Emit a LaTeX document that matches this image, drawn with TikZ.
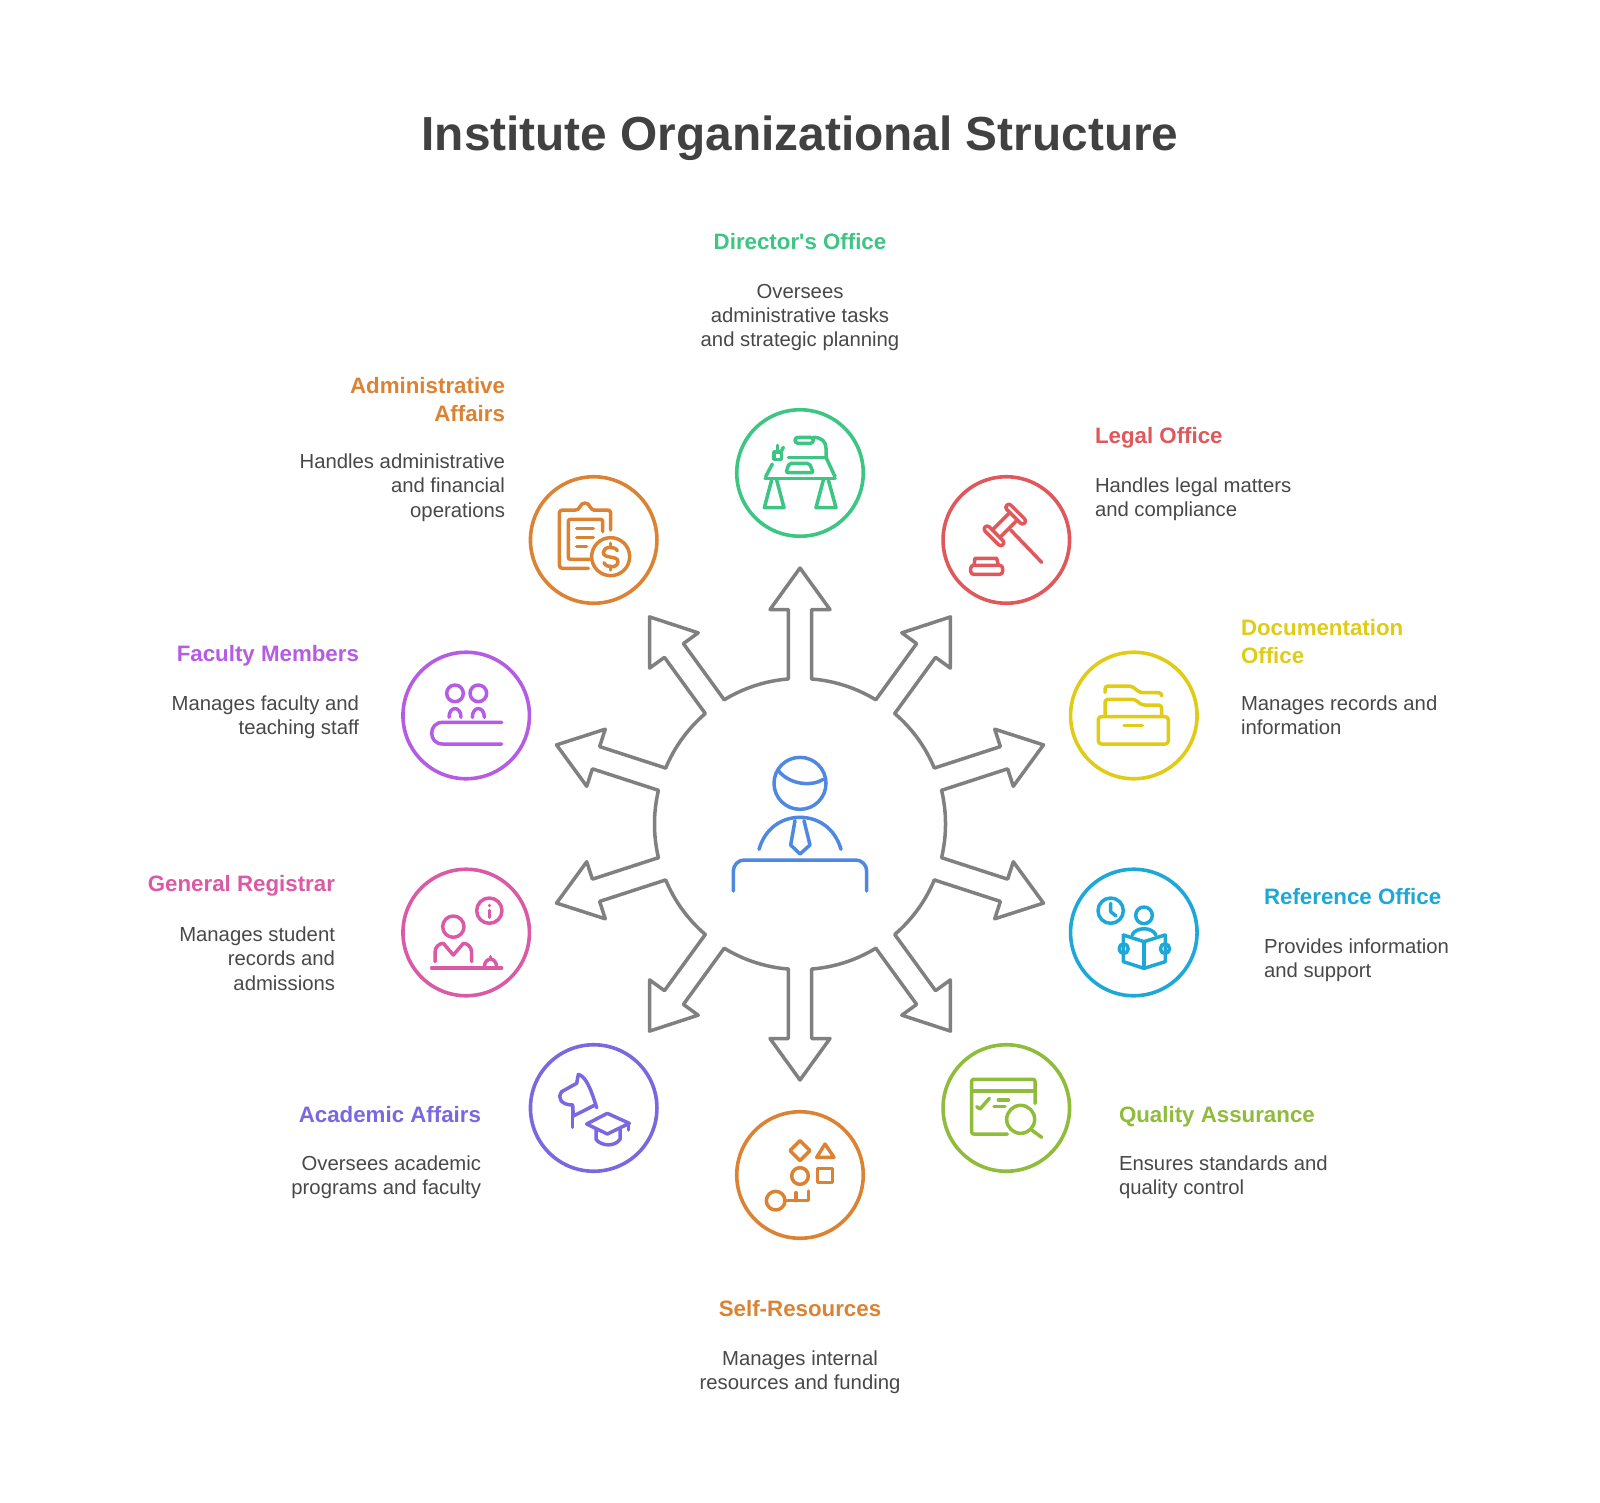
\documentclass[tikz,border=0pt]{standalone}
\usepackage{fontspec}
\setmainfont{Liberation Sans}[Ligatures=TeXOff]
\definecolor{cdir}{HTML}{3CC583}
\definecolor{cleg}{HTML}{E0585B}
\definecolor{cdoc}{HTML}{E0CB15}
\definecolor{cref}{HTML}{1EA8D8}
\definecolor{cqua}{HTML}{8FBC3B}
\definecolor{cres}{HTML}{DB8333}
\definecolor{caca}{HTML}{7B68E0}
\definecolor{creg}{HTML}{DB5AA6}
\definecolor{cfac}{HTML}{B55CE5}
\definecolor{cadm}{HTML}{DB8333}
\definecolor{chub}{HTML}{4E88E0}
\definecolor{cgray}{HTML}{808080}
\definecolor{ctxt}{HTML}{484848}
\tikzset{
  ring/.style={draw=#1,circle,line width=3.6pt,minimum size=126.5pt,inner sep=0pt,outer sep=0pt},
  zc/.style 2 args={shift={(#1,#2)},x=0.33333pt,y=-0.33333pt},
  icon/.style={draw=#1,line width=3.5pt,line cap=round,line join=round},
  hd/.style={inner sep=0pt,outer sep=0pt,font=\fontsize{22.3}{28.5}\selectfont\bfseries,execute at begin node={\rule{0pt}{16pt}}},
  bd/.style={inner sep=0pt,outer sep=0pt,text=ctxt,font=\fontsize{20.3}{24.2}\selectfont,execute at begin node={\rule{0pt}{15pt}}},
}
\begin{document}
\begin{tikzpicture}[x=1pt,y=-1pt]
\useasboundingbox (0,0) rectangle (1600,1503);
\fill[white] (0,0) rectangle (1600,1503);
% title
\node[inner sep=0pt,text=ctxt!90!black,font=\fontsize{47.8}{58}\selectfont\bfseries] (title) at (800,138) {Institute Organizational Structure};
% hub and arrows
\foreach \a in {90,54,18,-18,-54,-90,-126,-162,162,126}{
\begin{scope}[shift={(800,824)},x=1pt,y=1pt,rotate=\a]
\draw[cgray,line width=3.5pt,line join=round,line cap=round]
  (145.03,-11.7) -- (214.5,-11.7) -- (214.5,-30) -- (256,0) -- (214.5,30) -- (214.5,11.7) -- (145.03,11.7)
  arc[start angle=4.6,end angle=31.4,radius=145.5];
\end{scope}}
% rings
\node[ring=cdir] (director) at (800,473) {};
\node[ring=cleg] (legal) at (1006.3,540) {};
\node[ring=cdoc] (documentation) at (1133.8,715.5) {};
\node[ring=cref] (reference) at (1133.8,932.5) {};
\node[ring=cqua] (quality) at (1006.3,1108) {};
\node[ring=cres] (resources) at (800,1175) {};
\node[ring=caca] (academic) at (593.7,1108) {};
\node[ring=creg] (registrar) at (466.2,932.5) {};
\node[ring=cfac] (faculty) at (466.2,715.5) {};
\node[ring=cadm] (admin) at (593.7,540) {};
% hub icon
\begin{scope}[zc={640}{560}]
\draw[icon=chub] (480,670) circle[radius=78];
\draw[icon=chub] (415,632) .. controls (450,675) and (515,680) .. (550,658);
\draw[icon=chub] (357,868) .. controls (375,805) and (425,772) .. (480,772) .. controls (535,772) and (585,805) .. (603,868);
\draw[icon=chub] (465,782) -- (452,855) -- (480,882) -- (510,855) -- (492,782);
\draw[icon=chub,rounded corners=11pt] (280,993) -- (280,900) -- (680,900) -- (680,993);
\end{scope}
% desk icon
\begin{scope}[zc={700}{380}]
\draw[icon=cdir] (195,295) -- (405,295);
\draw[icon=cdir] (197,290) -- (217,252);
\draw[icon=cdir] (265,232) -- (378,232);
\draw[icon=cdir] (378,232) -- (405,290);
\draw[icon=cdir] (340,172) .. controls (365,172) and (378,185) .. (378,205) -- (378,232);
\draw[icon=cdir,rounded corners=3pt] (285,172) rectangle (340,190);
\draw[icon=cdir,rounded corners=2pt] (267,250) -- (328,250) -- (340,278) -- (258,278) -- cycle;
\draw[icon=cdir] (222,216) rectangle (245,238);
\draw[icon=cdir] (232,196) -- (232,216);
\draw[icon=cdir] (250,202) -- (243,216);
\draw[icon=cdir] (215,300) -- (193,383) -- (252,383) -- (230,300);
\draw[icon=cdir] (370,300) -- (348,383) -- (408,383) -- (385,300);
\end{scope}
% gavel icon
\begin{scope}[zc={700}{380}]
\draw[icon=cleg] (932,450) -- (1025,547);
\draw[icon=cleg,rounded corners=3pt] (812,556) rectangle (908,583);
\draw[icon=cleg] (822,556) -- (825,535) -- (890,535) -- (895,556);
\begin{scope}[shift={(914.5,435)},rotate=-45]
\draw[icon=cleg,rounded corners=3pt] (-38,-55) rectangle (38,-37);
\draw[icon=cleg,rounded corners=3pt] (-38,37) rectangle (38,55);
\draw[icon=cleg] (-16,-37) -- (-16,37);
\draw[icon=cleg] (16,-37) -- (16,37);
\end{scope}
\end{scope}
% admin icon
\begin{scope}[zc={520}{460}]
\draw[icon=cadm,rounded corners=3pt] (272,210) -- (272,150) -- (228,150) -- (214,150) .. controls (205,125) and (185,125) .. (176,150) -- (118,150) -- (118,325) -- (205,325);
\draw[icon=cadm,rounded corners=2pt] (248,215) -- (248,178) -- (145,178) -- (145,298) -- (210,298);
\draw[icon=cadm] (170,205) -- (220,205);
\draw[icon=cadm] (170,232) -- (220,232);
\draw[icon=cadm] (170,260) -- (200,260);
\draw[icon=cadm] (272,290) circle[radius=57];
\draw[icon=cadm] (272,250) -- (272,262);
\draw[icon=cadm] (272,318) -- (272,330);
\draw[icon=cadm] (292,272) .. controls (285,258) and (250,258) .. (250,277) .. controls (250,298) and (294,285) .. (294,305) .. controls (294,325) and (258,325) .. (252,308);
\end{scope}
% faculty icon
\begin{scope}[zc={390}{640}]
\draw[icon=cfac] (195,160) circle[radius=25];
\draw[icon=cfac] (265,160) circle[radius=25];
\draw[icon=cfac] (177,232) .. controls (177,197) and (213,197) .. (213,232);
\draw[icon=cfac] (247,232) .. controls (247,197) and (283,197) .. (283,232);
\draw[icon=cfac] (335,247) -- (158,247) .. controls (114,247) and (114,312) .. (158,312) -- (335,312);
\end{scope}
% registrar icon
\begin{scope}[zc={390}{640}]
\draw[icon=creg] (190,860) circle[radius=32];
\draw[icon=creg] (135,965) -- (135,938) .. controls (135,920) and (148,910) .. (160,910) -- (190,945) -- (220,910) .. controls (232,910) and (245,920) .. (245,938) -- (245,965);
\draw[icon=creg] (125,984) -- (335,984);
\draw[icon=creg] (283,980) .. controls (285,950) and (318,950) .. (320,980);
\draw[icon=creg] (302,950) -- (302,952);
\draw[icon=creg] (298,812) circle[radius=38];
\draw[icon=creg] (298,796) -- (298,797);
\draw[icon=creg] (298,811) -- (298,832);
\end{scope}
% documentation icon
\begin{scope}[zc={1060}{640}]
\draw[icon=cdoc,rounded corners=3pt] (115,230) rectangle (325,312);
\draw[icon=cdoc] (192,256) -- (247,256);
\draw[icon=cdoc,rounded corners=3pt] (135,225) -- (135,178) -- (225,178) -- (245,195) -- (305,195) -- (305,225);
\draw[icon=cdoc,rounded corners=3pt] (135,157) -- (135,138) -- (215,138) -- (240,158) -- (305,158) -- (305,166);
\end{scope}
% reference icon
\begin{scope}[zc={1060}{640}]
\draw[icon=cref] (152,812) circle[radius=38];
\draw[icon=cref] (152,790) -- (152,815) -- (168,828);
\draw[icon=cref] (252,826) circle[radius=25];
\draw[icon=cref] (216,885) .. controls (228,860) and (276,860) .. (288,885);
\draw[icon=cref] (190,885) -- (252,905) -- (315,885);
\draw[icon=cref] (190,885) -- (190,965) -- (252,985) -- (316,965) -- (316,885);
\draw[icon=cref] (252,905) -- (252,985);
\draw[icon=cref,rounded corners=4pt] (178,912) rectangle (204,940);
\draw[icon=cref,rounded corners=4pt] (302,912) rectangle (328,940);
\end{scope}
% quality icon
\begin{scope}[zc={920}{1030}]
\draw[icon=cqua,rounded corners=2pt] (262,312) -- (155,312) -- (155,148) -- (345,148) -- (345,220);
\draw[icon=cqua] (155,183) -- (345,183);
\draw[icon=cqua] (170,230) -- (180,237) -- (208,205);
\draw[icon=cqua] (235,210) -- (265,210);
\draw[icon=cqua] (222,230) -- (255,230);
\draw[icon=cqua] (302,268) circle[radius=42];
\draw[icon=cqua] (335,300) -- (365,322);
\end{scope}
% resources icon
\begin{scope}[zc={520}{1030}]
\draw[icon=cres] (840,332) -- (870,362) -- (840,392) -- (810,362) -- cycle;
\draw[icon=cres] (915,342) -- (942,382) -- (890,382) -- cycle;
\draw[icon=cres] (840,438) circle[radius=25];
\draw[icon=cres] (893,415) rectangle (938,458);
\draw[icon=cres] (767,512) circle[radius=28];
\draw[icon=cres] (795,512) -- (865,512) -- (865,483);
\draw[icon=cres] (828,488) -- (828,512);
\end{scope}
% academic icon
\begin{scope}[zc={520}{1030}]
\draw[icon=caca] (230,233) .. controls (215,185) and (200,140) .. (175,133) -- (170,160) -- (125,185) .. controls (110,205) and (125,225) .. (158,225) -- (160,258) -- (225,225);
\draw[icon=caca] (158,225) -- (158,292);
\draw[icon=caca] (200,282) -- (262,250) -- (328,280) -- (262,312) -- cycle;
\draw[icon=caca] (228,298) -- (228,328) .. controls (245,350) and (285,350) .. (300,328) -- (300,298);
\draw[icon=caca] (325,283) -- (325,300);
\end{scope}
% labels
\node[hd,text=cdir,anchor=north] (directorH) at (800,233) {Director's Office};
\node[bd,align=center,anchor=north] (directorB) at (800,284) {Oversees\\administrative tasks\\and strategic planning};
\node[hd,text=cadm,anchor=north east,align=right] (adminH) at (505,377) {Administrative\\Affairs};
\node[bd,align=right,anchor=north east] (adminB) at (505,454) {Handles administrative\\and financial\\operations};
\node[hd,text=cleg,anchor=north west] (legalH) at (1095,427) {Legal Office};
\node[bd,align=left,anchor=north west] (legalB) at (1095,478) {Handles legal matters\\and compliance};
\node[hd,text=cdoc,anchor=north west,align=left] (docH) at (1241,619) {Documentation\\Office};
\node[bd,align=left,anchor=north west] (docB) at (1241,696) {Manages records and\\information};
\node[hd,text=cfac,anchor=north east] (facH) at (359,645) {Faculty Members};
\node[bd,align=right,anchor=north east] (facB) at (359,696) {Manages faculty and\\teaching staff};
\node[hd,text=creg,anchor=north east] (regH) at (335,875) {General Registrar};
\node[bd,align=right,anchor=north east] (regB) at (335,927) {Manages student\\records and\\admissions};
\node[hd,text=cref,anchor=north west] (refH) at (1264,888) {Reference Office};
\node[bd,align=left,anchor=north west] (refB) at (1264,939) {Provides information\\and support};
\node[hd,text=caca,anchor=north east] (acaH) at (481,1106) {Academic Affairs};
\node[bd,align=right,anchor=north east] (acaB) at (481,1156) {Oversees academic\\programs and faculty};
\node[hd,text=cqua,anchor=north west] (quaH) at (1119,1106) {Quality Assurance};
\node[bd,align=left,anchor=north west] (quaB) at (1119,1156) {Ensures standards and\\quality control};
\node[hd,text=cres,anchor=north] (resH) at (800,1300) {Self-Resources};
\node[bd,align=center,anchor=north] (resB) at (800,1351) {Manages internal\\resources and funding};
\end{tikzpicture}
\end{document}
